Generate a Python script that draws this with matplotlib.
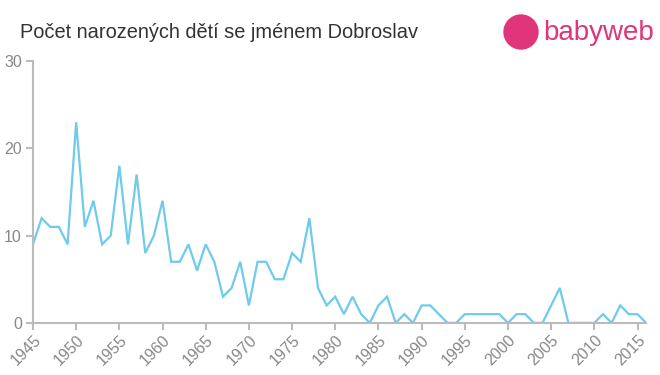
import matplotlib
matplotlib.use("Agg")
import matplotlib.pyplot as plt
from matplotlib.patches import Ellipse

# Počet narozených dětí se jménem Dobroslav, 1945-2016
years = list(range(1945, 2017))
counts = [9, 12, 11, 11, 9, 23, 11, 14, 9, 10,
          18, 9, 17, 8, 10, 14, 7, 7, 9, 6,
          9, 7, 3, 4, 7, 2, 7, 7, 5, 5,
          8, 7, 12, 4, 2, 3, 1, 3, 1, 0,
          2, 3, 0, 1, 0, 2, 2, 1, 0, 0,
          1, 1, 1, 1, 1, 0, 1, 1, 0, 0,
          2, 4, 0, 0, 0, 0, 1, 0, 2, 1,
          1, 0]
x_ticks = list(range(1945, 2016, 5))
y_ticks = [0, 10, 20, 30]

title = "Počet narozených dětí se jménem Dobroslav"
line_color = "#6fcbea"
axis_color = "#bbbbbb"
label_color = "#888888"
logo_color = "#e0357a"

plt.rcParams["font.family"] = ["Liberation Sans", "DejaVu Sans"]

fig = plt.figure(figsize=(6.6, 3.75), dpi=100)
ax = fig.add_axes([0.05, 0.139, 0.929, 0.698])

ax.plot(years, counts, color=line_color, linewidth=1.6, solid_joinstyle="miter")

ax.set_xlim(1945, 2016)
ax.set_ylim(0, 30)
ax.set_xticks(x_ticks)
ax.set_yticks(y_ticks)
ax.set_xticklabels([str(y) for y in x_ticks], rotation=45, ha="right",
                   rotation_mode="anchor")

for side in ["top", "right"]:
    ax.spines[side].set_visible(False)
for side in ["left", "bottom"]:
    ax.spines[side].set_color(axis_color)
    ax.spines[side].set_linewidth(1.5)

ax.tick_params(axis="both", colors=axis_color, labelcolor=label_color,
               labelsize=11.5, length=5, width=1.5)
ax.tick_params(axis="x", pad=2)
ax.tick_params(axis="y", pad=3)

# Title
fig.text(20 / 660, 1 - 33 / 375, title, fontsize=14.4, color="#333333",
         ha="left", va="center")

# babyweb logo
circ = Ellipse((521 / 660, 1 - 32 / 375), 34 / 660, 34 / 375,
               transform=fig.transFigure, color=logo_color, clip_on=False)
fig.patches.append(circ)
fig.text(543 / 660, 1 - 33 / 375, "babyweb", fontsize=20, color=logo_color,
         ha="left", va="center")

fig.savefig("out.png", dpi=100)
